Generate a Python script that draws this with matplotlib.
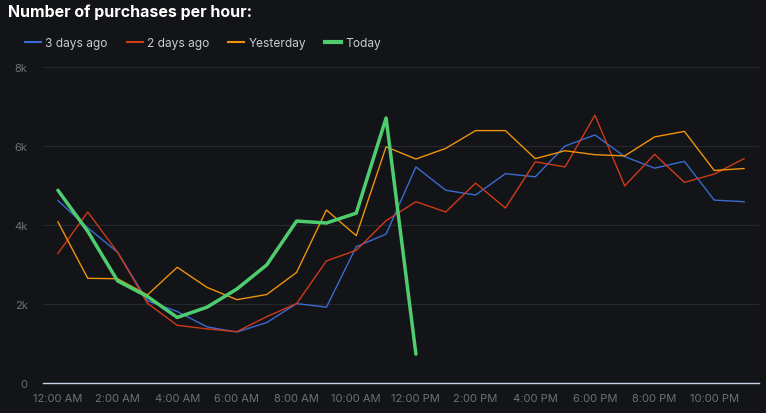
import matplotlib
matplotlib.use("Agg")
import matplotlib.pyplot as plt
from matplotlib.lines import Line2D

plt.rcParams['font.family'] = ['Inter', 'DejaVu Sans']

hours = list(range(24))
tick_hours = [0, 2, 4, 6, 8, 10, 12, 14, 16, 18, 20, 22]
tick_labels = ["12:00 AM", "2:00 AM", "4:00 AM", "6:00 AM", "8:00 AM", "10:00 AM",
               "12:00 PM", "2:00 PM", "4:00 PM", "6:00 PM", "8:00 PM", "10:00 PM"]
y_ticks = [0, 2000, 4000, 6000, 8000]
y_labels = ["0", "2k", "4k", "6k", "8k"]

three_days_ago = [4620, 3930, 3310, 2080, 1810, 1420, 1290, 1530, 2010, 1920, 3450, 3770,
                  5470, 4880, 4760, 5300, 5220, 6000, 6280, 5730, 5440, 5610, 4630, 4590]
two_days_ago = [3280, 4330, 3310, 2020, 1460, 1370, 1300, 1680, 2010, 3090, 3360, 4110,
                4590, 4330, 5060, 4430, 5600, 5470, 6780, 4990, 5790, 5080, 5290, 5680]
yesterday = [4080, 2650, 2640, 2230, 2930, 2420, 2110, 2240, 2800, 4380, 3730, 5980,
             5670, 5940, 6390, 6390, 5680, 5880, 5780, 5750, 6230, 6370, 5380, 5430]
today = [4880, 3840, 2585, 2190, 1660, 1920, 2380, 2990, 4100, 4050, 4300, 6710, 730]

bg = "#131418"
fig = plt.figure(figsize=(7.66, 4.14), dpi=100, facecolor=bg)
ax = fig.add_axes([43 / 766, 30 / 414, 716 / 766, 316 / 414], facecolor=bg)

ax.plot(hours, three_days_ago, color="#3a6bd1", lw=1.0, label="3 days ago")
ax.plot(hours, two_days_ago, color="#cf3a17", lw=1.0, label="2 days ago")
ax.plot(hours, yesterday, color="#ee930c", lw=1.0, label="Yesterday")
ax.plot(hours[:len(today)], today, color="#4fcc6e", lw=2.5, label="Today",
        solid_capstyle="round", solid_joinstyle="round")

ax.set_xlim(-0.5, 23.5)
ax.set_ylim(0, 8000)
ax.set_xticks(tick_hours)
ax.set_xticklabels(tick_labels)
ax.set_yticks(y_ticks)
ax.set_yticklabels(y_labels)
ax.grid(axis="y", color="#26282d", lw=0.8)
ax.set_axisbelow(True)
for s in ["top", "right", "left"]:
    ax.spines[s].set_visible(False)
ax.spines["bottom"].set_color("#c9d3ea")
ax.spines["bottom"].set_linewidth(1.0)
ax.tick_params(length=0, colors="#6d7077", labelsize=8)
ax.tick_params(axis="x", pad=7)
ax.tick_params(axis="y", pad=11)

fig.text(8 / 766, 1 - 12 / 414, "Number of purchases per hour:", color="white",
         fontsize=11.5, fontweight="bold", va="center", ha="left")

handles = [Line2D([], [], color="#3a6bd1", lw=1.5),
           Line2D([], [], color="#cf3a17", lw=1.5),
           Line2D([], [], color="#ee930c", lw=1.5),
           Line2D([], [], color="#4fcc6e", lw=3)]
leg = fig.legend(handles, ["3 days ago", "2 days ago", "Yesterday", "Today"],
                 loc="center left", bbox_to_anchor=(14 / 766, 1 - 44 / 414), ncol=4,
                 frameon=False, fontsize=8.6, labelcolor="#c9cbd0",
                 handlelength=1.35, handletextpad=0.35, columnspacing=1.6)

fig.savefig("out.png", dpi=100, facecolor=bg)
